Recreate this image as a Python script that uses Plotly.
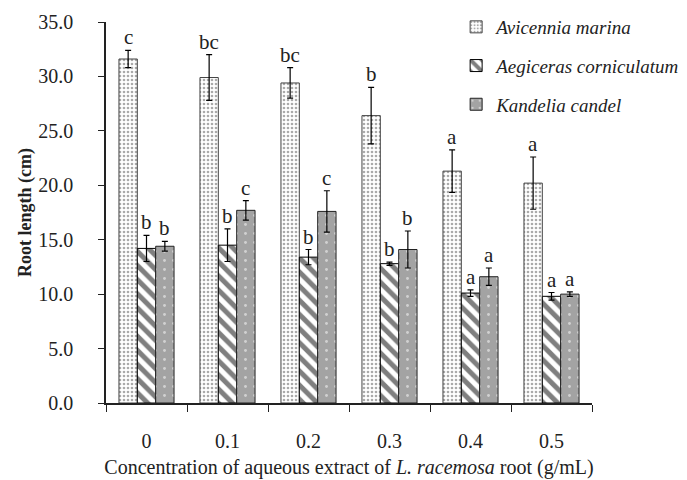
import plotly.graph_objects as go

categories = ["0", "0.1", "0.2", "0.3", "0.4", "0.5"]
species = ["Avicennia marina", "Aegiceras corniculatum", "Kandelia candel"]

avicennia = [31.6, 29.9, 29.4, 26.4, 21.3, 20.2]
avicennia_err = [0.8, 2.1, 1.4, 2.6, 1.95, 2.4]
avicennia_letters = ["c", "bc", "bc", "b", "a", "a"]

aegiceras = [14.2, 14.5, 13.4, 12.8, 10.1, 9.8]
aegiceras_err = [1.2, 1.5, 0.7, 0.15, 0.3, 0.35]
aegiceras_letters = ["b", "b", "b", "b", "a", "a"]

kandelia = [14.4, 17.7, 17.6, 14.1, 11.6, 10.0]
kandelia_err = [0.45, 0.9, 1.9, 1.7, 0.8, 0.2]
kandelia_letters = ["b", "c", "c", "b", "a", "a"]

serif = "Liberation Serif"

series = [
    (avicennia, avicennia_err, avicennia_letters,
     dict(color="white", line=dict(color="#444", width=1),
          pattern=dict(shape=".", fgcolor="#555", bgcolor="white", size=4, solidity=0.35))),
    (aegiceras, aegiceras_err, aegiceras_letters,
     dict(color="white", line=dict(color="black", width=1),
          pattern=dict(shape="\\", fgcolor="black", bgcolor="white", size=10, solidity=0.5))),
    (kandelia, kandelia_err, kandelia_letters,
     dict(color="#a3a3a3", line=dict(color="#222", width=1),
          pattern=dict(shape=".", fgcolor="white", bgcolor="#a3a3a3", size=9, solidity=0.08))),
]

# page body adds an 8px offset; figure is sized to fill the rest of the window
W, H = 679, 472

fig = go.Figure()
bargap = 0.32
bw = (1 - bargap) / 3
annotations = []
for k, (vals, errs, letters, marker) in enumerate(series):
    fig.add_trace(go.Bar(
        x=categories, y=vals, name="<i>%s</i>" % species[k],
        marker=marker,
        error_y=dict(type="data", array=errs, visible=True, color="black", thickness=1.2, width=3),
        legendgroup="g%d" % k,
    ))
    for i, (v, e, l) in enumerate(zip(vals, errs, letters)):
        annotations.append(dict(
            x=i + (k - 1) * bw, y=v + e, xref="x", yref="y", text=l, showarrow=False,
            yanchor="bottom", xanchor="center", yshift=-1,
            font=dict(family=serif, size=21, color="#222"),
        ))

fig.update_layout(
    width=W, height=H,
    margin=dict(l=0, r=0, t=0, b=0, pad=0, autoexpand=False),
    paper_bgcolor="white", plot_bgcolor="white",
    barmode="group", bargap=bargap, bargroupgap=0,
    font=dict(family=serif, color="#222"),
    showlegend=True,
    legend=dict(x=0.66, y=1.0, xanchor="left", yanchor="top",
                font=dict(family=serif, size=19, color="#222"),
                traceorder="grouped", tracegroupgap=11, itemwidth=30,
                bgcolor="rgba(0,0,0,0)"),
    annotations=annotations,
)
fig.update_xaxes(
    domain=[98 / W, 584 / W], automargin=False,
    type="category", tickson="boundaries", ticks="outside", ticklen=7, tickcolor="#222",
    showline=True, linecolor="#222", linewidth=1.5, showgrid=False,
    tickfont=dict(family=serif, size=20, color="#222"), ticklabelstandoff=19,
    title=dict(text="Concentration of aqueous extract of <i>L. racemosa</i> root (g/mL)",
               font=dict(family=serif, size=20, color="#222"), standoff=9),
)
fig.update_yaxes(
    domain=[(H - 395) / H, (H - 14) / H], automargin=False,
    range=[0, 35], dtick=5, tickformat=".1f", ticks="outside", ticklen=6, tickcolor="#222",
    showline=True, linecolor="#222", linewidth=1.5, showgrid=False, zeroline=False,
    tickfont=dict(family=serif, size=20, color="#222"), ticklabelstandoff=21,
    title=dict(text="<b>Root length (cm)</b>", font=dict(family=serif, size=18, color="#222"), standoff=2),
)
fig.write_html("out.html")
